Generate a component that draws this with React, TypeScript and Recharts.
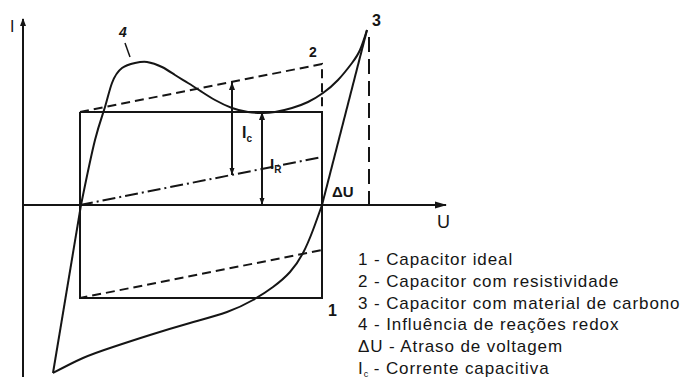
import React from 'react';
import { ComposedChart, Line, XAxis, YAxis, Scatter } from 'recharts';

// units: U along the voltage axis, I along the current axis (origin at the axes crossing)
const rectU = [5.7, 29.9, 29.9, 5.7, 5.7];
const rectI = [9.3, 9.3, -9.3, -9.3, 9.3];

const resistU = [5.7, 29.9, 29.9, 5.7];
const resistI = [9.3, 14.1, -4.5, -9.3];

const midU = [5.7, 29.9];
const midI = [0, 4.8];

// curve 3/4: straight leg at the left, redox hump on top, straight drop from point 3, lower branch
const legU = [3.0, 5.8];
const legI = [-16.8, 0];

const upperU = [5.8, 7.2, 8.2, 8.9, 9.9, 11.2, 12.4, 13.9, 15.2, 16.5, 17.9, 19.2, 20.9, 22.5, 23.9, 25.2, 26.9, 28.5, 30.0, 31.5, 32.9, 33.7, 34.4];
const upperI = [0, 6.5, 9.8, 12.2, 13.7, 14.2, 14.3, 13.8, 13.0, 12.2, 11.3, 10.5, 9.7, 9.3, 9.2, 9.3, 9.7, 10.3, 11.2, 12.5, 14.2, 15.5, 17.5];

const peakU = [34.4, 29.9];
const peakI = [17.5, 0];

const lowerU = [3.0, 6.0, 9.0, 12.7, 16.7, 20.4, 23.0, 25.0, 26.7, 28.0, 29.0, 29.9];
const lowerI = [-16.8, -15.3, -14.2, -13.0, -11.8, -10.7, -9.5, -8.2, -6.7, -4.8, -2.5, 0];

const deltaU = [34.6, 34.6];
const deltaI = [16.8, 0];

const icU = [20.9, 20.9];
const icI = [12.3, 3.0];

const irU = [23.9, 23.9];
const irI = [9.3, 0];

const yAxisU = [0, 0];
const yAxisI = [-17.2, 18.6];
const xAxisU = [0, 42.3];
const xAxisI = [0, 0];

const pointerU = [10.2, 10.7];
const pointerI = [16.2, 14.8];

const arrowUpU = [0, 20.9, 23.9];
const arrowUpI = [18.7, 12.3, 9.3];
const arrowDownU = [20.9, 23.9];
const arrowDownI = [3.0, 0];
const arrowRightU = [42.4];
const arrowRightI = [0];

const legendItems = [
  { key: '1', text: 'Capacitor ideal' },
  { key: '2', text: 'Capacitor com resistividade' },
  { key: '3', text: 'Capacitor com material de carbono' },
  { key: '4', text: 'Influência de reações redox' },
  { key: 'ΔU', text: 'Atraso de voltagem' },
  { key: 'Ic', text: 'Corrente capacitiva' },
];

const pts = (u: number[], i: number[]) => u.map((x, k) => ({ u: x, i: i[k] }));

const INK = '#151515';

const ArrowUp = (p: any) => (
  <polygon points={`${p.cx},${p.cy} ${p.cx - 3},${p.cy + 8} ${p.cx + 3},${p.cy + 8}`} fill={INK} />
);
const ArrowDown = (p: any) => (
  <polygon points={`${p.cx},${p.cy} ${p.cx - 2.5},${p.cy - 7} ${p.cx + 2.5},${p.cy - 7}`} fill={INK} />
);
const ArrowRight = (p: any) => (
  <polygon points={`${p.cx},${p.cy} ${p.cx - 12},${p.cy - 3.5} ${p.cx - 12},${p.cy + 3.5}`} fill={INK} />
);

const lineProps = {
  dataKey: 'i',
  dot: false,
  activeDot: false,
  stroke: INK,
  strokeWidth: 2,
  isAnimationActive: false,
  legendType: 'none' as const,
};

const label = (extra: React.CSSProperties): React.CSSProperties => ({
  position: 'absolute',
  lineHeight: 1,
  fontFamily: '"Liberation Sans", Arial, sans-serif',
  color: INK,
  ...extra,
});

export default function App() {
  return (
    <div style={{ position: 'absolute', left: 0, top: 0, width: 686, height: 381, background: '#fff' }}>
      <ComposedChart width={686} height={381} margin={{ top: 0, right: 0, bottom: 0, left: 0 }}>
        <XAxis type="number" dataKey="u" domain={[-2.3, 66.3]} hide allowDataOverflow />
        <YAxis type="number" dataKey="i" domain={[-17.6, 20.5]} hide allowDataOverflow />
        <Line {...lineProps} data={pts(yAxisU, yAxisI)} />
        <Line {...lineProps} data={pts(xAxisU, xAxisI)} />
        <Line {...lineProps} data={pts(rectU, rectI)} />
        <Line {...lineProps} data={pts(resistU, resistI)} strokeDasharray="9 5" />
        <Line {...lineProps} data={pts(midU, midI)} strokeDasharray="13 4 2 4" />
        <Line {...lineProps} data={pts(legU, legI)} />
        <Line {...lineProps} data={pts(upperU, upperI)} type="natural" />
        <Line {...lineProps} data={pts(peakU, peakI)} />
        <Line {...lineProps} data={pts(lowerU, lowerI)} type="natural" />
        <Line {...lineProps} data={pts(deltaU, deltaI)} strokeDasharray="15 7" />
        <Line {...lineProps} data={pts(icU, icI)} />
        <Line {...lineProps} data={pts(irU, irI)} />
        <Line {...lineProps} data={pts(pointerU, pointerI)} strokeWidth={1.5} />
        <Scatter data={pts(arrowUpU, arrowUpI)} dataKey="i" shape={ArrowUp} isAnimationActive={false} legendType="none" />
        <Scatter data={pts(arrowDownU, arrowDownI)} dataKey="i" shape={ArrowDown} isAnimationActive={false} legendType="none" />
        <Scatter data={pts(arrowRightU, arrowRightI)} dataKey="i" shape={ArrowRight} isAnimationActive={false} legendType="none" />
      </ComposedChart>

      <div style={label({ left: 10, top: 19, fontSize: 16 })}>I</div>
      <div style={label({ left: 437, top: 213, fontSize: 18 })}>U</div>
      <div style={label({ left: 328, top: 303, fontSize: 16, fontWeight: 'bold' })}>1</div>
      <div style={label({ left: 309, top: 45, fontSize: 14, fontWeight: 'bold' })}>2</div>
      <div style={label({ left: 372, top: 13, fontSize: 16, fontWeight: 'bold' })}>3</div>
      <div style={label({ left: 119, top: 25, fontSize: 14, fontWeight: 'bold', fontStyle: 'italic' })}>4</div>
      <div style={label({ left: 332, top: 184, fontSize: 15, fontWeight: 'bold' })}>ΔU</div>
      <div style={label({ left: 242, top: 125, fontSize: 16, fontWeight: 'bold' })}>
        I<sub style={{ fontSize: 10 }}>c</sub>
      </div>
      <div style={label({ left: 270, top: 156, fontSize: 15, fontWeight: 'bold' })}>
        I<sub style={{ fontSize: 10 }}>R</sub>
      </div>

      <div
        style={label({
          left: 358,
          top: 249,
          fontSize: 17,
          lineHeight: '21.8px',
          letterSpacing: 0.9,
          whiteSpace: 'nowrap',
        })}
      >
        {legendItems.map((it) => (
          <div key={it.key}>
            {it.key === 'Ic' ? (
              <>
                I<sub style={{ fontSize: 9, verticalAlign: '-3px', letterSpacing: 0 }}>c</sub>
              </>
            ) : (
              it.key
            )}{' '}
            - {it.text}
          </div>
        ))}
      </div>
    </div>
  );
}
